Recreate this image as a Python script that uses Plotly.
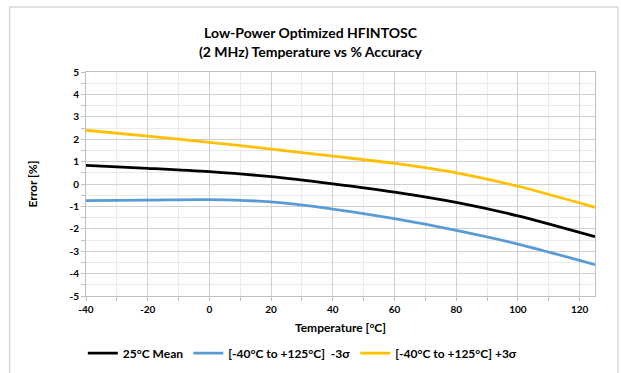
import plotly.graph_objects as go

temp = [-40, -20, 0, 20, 40, 60, 80, 100, 125]
mean_25c = [0.83, 0.70, 0.55, 0.33, 0.01, -0.36, -0.82, -1.42, -2.35]
minus_3sigma = [-0.74, -0.72, -0.70, -0.80, -1.12, -1.55, -2.07, -2.68, -3.60]
plus_3sigma = [2.40, 2.14, 1.86, 1.56, 1.24, 0.92, 0.50, -0.10, -1.04]

x_ticks = [-40, -20, 0, 20, 40, 60, 80, 100, 120]
x_ticklabels = ["-40", "-20", "0", "20", "40", "60", "80", "100", "120"]
y_ticks = [-5, -4, -3, -2, -1, 0, 1, 2, 3, 4, 5]
y_ticklabels = ["-5", "-4", "-3", "-2", "-1", "0", "1", "2", "3", "4", "5"]

font = "Lato"

fig = go.Figure()
fig.add_trace(go.Scatter(
    x=temp, y=mean_25c, name="25°C Mean", mode="lines",
    line=dict(color="#000000", width=2.8, shape="spline", smoothing=0.8)
))
fig.add_trace(go.Scatter(
    x=temp, y=minus_3sigma, name="[-40°C to +125°C]  -3σ", mode="lines",
    line=dict(color="#5B9BD5", width=2.8, shape="spline", smoothing=0.8)
))
fig.add_trace(go.Scatter(
    x=temp, y=plus_3sigma, name="[-40°C to +125°C] +3σ", mode="lines",
    line=dict(color="#FFC000", width=2.8, shape="spline", smoothing=0.8)
))

fig.update_layout(
    width=621, height=373,
    margin=dict(l=86, r=26, t=72, b=77, autoexpand=False),
    paper_bgcolor="white", plot_bgcolor="white",
    font=dict(family=font, color="#000000"),
    title=dict(
        text="Low-Power Optimized HFINTOSC<br>(2 MHz) Temperature vs % Accuracy",
        x=0.5, xanchor="center", y=0.897, yanchor="middle",
        font=dict(size=14, family=font, weight="bold")
    ),
    xaxis=dict(
        title=dict(text="Temperature [°C]", font=dict(size=12, weight="bold"), standoff=9),
        range=[-40, 125], tickvals=x_ticks, ticktext=x_ticklabels,
        tickfont=dict(size=10, weight="bold"),
        showgrid=True, gridcolor="#D0D0D0", gridwidth=1,
        minor=dict(dtick=10, showgrid=True, gridcolor="#EBEBEB", ticks="outside", ticklen=4, tickcolor="#BFBFBF"),
        ticks="outside", ticklen=4, tickcolor="#BFBFBF",
        showline=True, linecolor="#BFBFBF", linewidth=1, mirror=True, zeroline=False
    ),
    yaxis=dict(
        title=dict(text="Error [%]", font=dict(size=12, weight="bold"), standoff=29),
        range=[-5, 5], tickvals=y_ticks, ticktext=y_ticklabels,
        tickfont=dict(size=10, weight="bold"),
        showgrid=True, gridcolor="#D0D0D0", gridwidth=1,
        minor=dict(dtick=0.5, showgrid=True, gridcolor="#EBEBEB", ticks="outside", ticklen=4, tickcolor="#BFBFBF"),
        ticks="outside", ticklen=4, tickcolor="#BFBFBF",
        showline=True, linecolor="#BFBFBF", linewidth=1, mirror=True, zeroline=False
    ),
    legend=dict(
        orientation="h", x=0.426, xanchor="center", y=-0.19, yanchor="top",
        font=dict(size=12, weight="bold"), itemwidth=30, traceorder="normal"
    ),
    showlegend=True,
)

# light frame around the chart
fig.add_shape(type="rect", xref="paper", yref="paper",
              x0=-0.15, x1=1.045, y0=-0.40, y1=1.29,
              line=dict(color="#D9D9D9", width=1.5), layer="below")

fig.write_html("out.html", config={"displayModeBar": False},
               post_script="document.body.style.margin='0';")
